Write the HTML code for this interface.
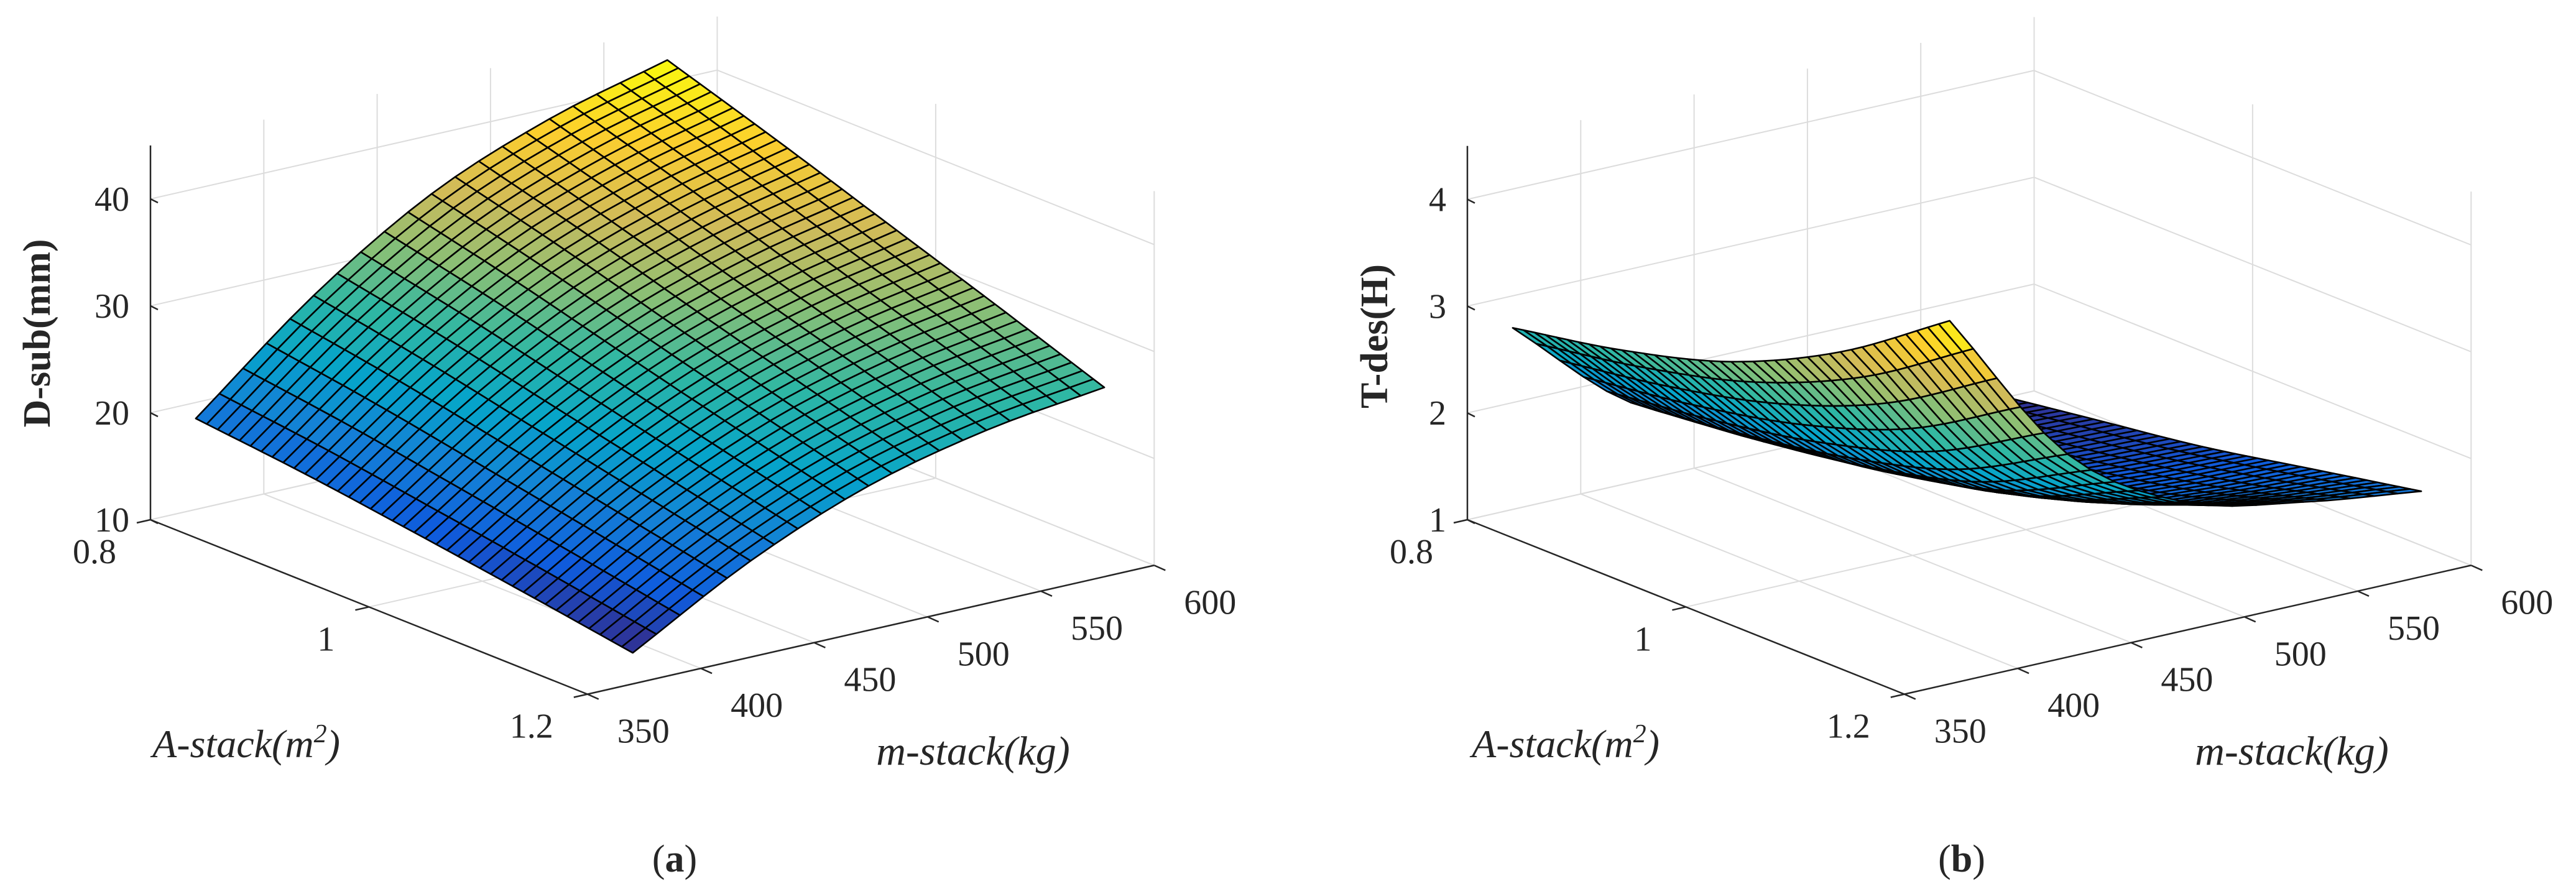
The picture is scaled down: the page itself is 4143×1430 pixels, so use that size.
<!DOCTYPE html>
<html><head><meta charset="utf-8"><style>
html,body{margin:0;padding:0;background:#fff;}
svg{display:block;}
text{font-family:"Liberation Serif",serif;fill:#262626;}
</style></head><body>
<svg id="fig" width="4143" height="1430" viewBox="0 0 4143 1430" xmlns="http://www.w3.org/2000/svg">
<g id="panelA"></g>
<g id="panelB"></g>
<text x="66" y="536" font-size="62" font-weight="bold" text-anchor="middle" transform="rotate(-90 66 536)" dominant-baseline="middle">D-sub(mm)</text>
<text x="396" y="1218" font-size="64" font-style="italic" text-anchor="middle">A-stack(m<tspan dy="-24" font-size="42">2</tspan><tspan dy="24">)</tspan></text>
<text x="1565" y="1230" font-size="66" font-style="italic" text-anchor="middle">m-stack(kg)</text>
<text x="1085" y="1402" font-size="62" text-anchor="middle">(<tspan font-weight="bold">a</tspan>)</text>
<text x="2217" y="541" font-size="62" font-weight="bold" text-anchor="middle" transform="rotate(-90 2217 541)" dominant-baseline="middle">T-des(H)</text>
<text x="2518" y="1218" font-size="64" font-style="italic" text-anchor="middle">A-stack(m<tspan dy="-24" font-size="42">2</tspan><tspan dy="24">)</tspan></text>
<text x="3686" y="1230" font-size="66" font-style="italic" text-anchor="middle">m-stack(kg)</text>
<text x="3155" y="1402" font-size="62" text-anchor="middle">(<tspan font-weight="bold">b</tspan>)</text>
</svg>
<script>
// ---- data ----
const aTicks = [0.8, 1, 1.2];
const aTickLabels = ["0.8", "1", "1.2"];
const mTicks = [350, 400, 450, 500, 550, 600];
const mTickLabels = ["350", "400", "450", "500", "550", "600"];
const zTicksA = [10, 20, 30, 40];
const zTicksB = [1, 2, 3, 4];
const gridA = [0.8, 0.9, 1.0, 1.1, 1.2];
const gridM = [370, 422, 474, 526, 578];
// D-sub (mm): rows = gridA, cols = gridM
const dsubRow08 = [18.5, 27.5, 34.5, 39.0, 42.0];
const dsubRow09 = [17.4, 25.6, 31.9, 35.9, 38.6];
const dsubRow10 = [16.0, 23.4, 29.0, 32.6, 35.0];
const dsubRow11 = [14.5, 21.2, 26.2, 29.4, 31.4];
const dsubRow12 = [12.9, 19.0, 23.5, 26.2, 27.7];
// T-des (H)
const tdesRow08 = [2.70, 1.75, 1.35, 1.18, 1.10];
const tdesRow09 = [2.90, 1.87, 1.45, 1.30, 1.25];
const tdesRow10 = [3.20, 2.05, 1.58, 1.45, 1.40];
const tdesRow11 = [3.70, 2.35, 1.80, 1.65, 1.60];
const tdesRow12 = [4.40, 2.90, 2.20, 1.95, 1.80];

const NS = "http://www.w3.org/2000/svg";
const AV = [702.8, 280.6], MV = [911.5, -207.2];
const parula = [[53,42,135],[15,92,221],[20,129,214],[6,164,202],[46,183,164],[135,191,119],[209,187,89],[252,206,46],[249,251,14]];
function cmap(t){t=Math.max(0,Math.min(1,t));const s=t*(parula.length-1);const i=Math.min(parula.length-2,Math.floor(s));const f=s-i;const c=parula[i].map((v,k)=>Math.round(v+(parula[i+1][k]-v)*f));return "rgb("+c.join(",")+")";}
function cr(p,t){const n=p.length;let i=Math.min(n-2,Math.floor(t));const f=t-i;const g=j=>j<0?2*p[0]-p[1]:(j>=n?2*p[n-1]-p[n-2]:p[j]);const p0=g(i-1),p1=g(i),p2=g(i+1),p3=g(i+2);return 0.5*((2*p1)+(-p0+p2)*f+(2*p0-5*p1+4*p2-p3)*f*f+(-p0+3*p1-3*p2+p3)*f*f*f);}
function sample(rows,u,v){const col=rows.map(r=>cr(r,v));return cr(col,u);}

function drawPanel(g, cfg){
  const P=(A,m,z)=>{const a=(A-0.8)/0.4,b=(m-350)/250;return [cfg.ox+a*AV[0]+b*MV[0], cfg.oy+a*AV[1]+b*MV[1]-(z-cfg.z0)*cfg.zs];};
  const line=(p,q,stroke,w,name)=>{const l=document.createElementNS(NS,"line");l.setAttribute("x1",p[0]);l.setAttribute("y1",p[1]);l.setAttribute("x2",q[0]);l.setAttribute("y2",q[1]);l.setAttribute("stroke",stroke);l.setAttribute("stroke-width",w);
    
    
    g.appendChild(l);};
  const txt=(x,y,s,anchor,name)=>{const t=document.createElementNS(NS,"text");t.setAttribute("x",x);t.setAttribute("y",y);t.setAttribute("font-size","56");t.setAttribute("text-anchor",anchor);t.textContent=s;
    
    
    g.appendChild(t);};
  const gc="#dcdcdc", zT=cfg.zTicks, z0=cfg.z0, z1=cfg.z1;
  mTicks.forEach(m=>line(P(0.8,m,z0),P(0.8,m,z1),gc,2,"grid-wall-m"));
  zT.forEach(z=>line(P(0.8,350,z),P(0.8,600,z),gc,2,"grid-wall-z"));
  aTicks.forEach(A=>line(P(A,600,z0),P(A,600,z1),gc,2,"grid-side-a"));
  zT.forEach(z=>line(P(0.8,600,z),P(1.2,600,z),gc,2,"grid-side-z"));
  mTicks.forEach(m=>line(P(0.8,m,z0),P(1.2,m,z0),gc,2,"grid-floor-m"));
  aTicks.forEach(A=>line(P(A,350,z0),P(A,600,z0),gc,2,"grid-floor-a"));
  const ac="#262626";
  line(P(0.8,350,z0),P(0.8,350,z1),ac,2.5,"z-axis-line");
  line(P(0.8,350,z0),P(1.2,350,z0),ac,2.5,"a-axis-line");
  line(P(1.2,350,z0),P(1.2,600,z0),ac,2.5,"m-axis-line");
  zT.forEach(z=>{const p=P(0.8,350,z);line(p,[p[0]+12,p[1]+6],ac,2.5,"z-tick");txt(p[0]-34,p[1]+19,String(z),"end","z-tick-label");});
  aTicks.forEach((A,i)=>{const p=P(A,350,z0);line(p,[p[0]-22,p[1]+5],ac,2.5,"a-tick");txt(p[0]-55,p[1]+70,aTickLabels[i],"end","a-tick-label");});
  mTicks.forEach((m,i)=>{const p=P(1.2,m,z0);line(p,[p[0]+18,p[1]+8],ac,2.5,"m-tick");txt(p[0]+48,p[1]+78,mTickLabels[i],"start","m-tick-label");});
  const NA=40, NM=20, rows=cfg.rows;
  const Z=[],Pt=[];
  let zmin=1e9,zmax=-1e9;
  for(let i=0;i<=NA;i++){Z.push([]);Pt.push([]);for(let j=0;j<=NM;j++){const u=i/NA*(gridA.length-1),v=j/NM*(gridM.length-1);const z=sample(rows,u,v);const A=gridA[0]+(gridA[gridA.length-1]-gridA[0])*i/NA;const m=gridM[0]+(gridM[gridM.length-1]-gridM[0])*j/NM;Z[i].push(z);Pt[i].push([P(A,m,z),P(A,m,z0)]);zmin=Math.min(zmin,z);zmax=Math.max(zmax,z);}}
  const faces=[];
  for(let i=0;i<NA;i++)for(let j=0;j<NM;j++){
    const c=[[i,j],[i+1,j],[i+1,j+1],[i,j+1]];
    let near=0,zs=0;c.forEach(([a,b])=>{const base=Pt[a][b][1][1];const zp=Pt[a][b][1][1]-Pt[a][b][0][1];near+=base*1.732+zp*0.577;zs+=Z[a][b];});
    faces.push({c,near,z:zs/4});
  }
  faces.sort((p,q)=>p.near-q.near);
  const sg=document.createElementNS(NS,"g");
  
  
  g.appendChild(sg);
  faces.forEach(f=>{const pg=document.createElementNS(NS,"polygon");pg.setAttribute("points",f.c.map(([a,b])=>Pt[a][b][0][0].toFixed(1)+","+Pt[a][b][0][1].toFixed(1)).join(" "));pg.setAttribute("fill",cmap((f.z-zmin)/(zmax-zmin)));pg.setAttribute("stroke","#000");pg.setAttribute("stroke-width","2.6");pg.setAttribute("stroke-linejoin","round");
    
    
    sg.appendChild(pg);});
}
drawPanel(document.getElementById("panelA"),{ox:242,oy:836,z0:10,z1:45,zs:17.2,zTicks:zTicksA,rows:[dsubRow08,dsubRow09,dsubRow10,dsubRow11,dsubRow12],name:"dsub-surface"});
drawPanel(document.getElementById("panelB"),{ox:2360,oy:836,z0:1,z1:4.5,zs:171.8,zTicks:zTicksB,rows:[tdesRow08,tdesRow09,tdesRow10,tdesRow11,tdesRow12],name:"tdes-surface"});
</script>
</body></html>
